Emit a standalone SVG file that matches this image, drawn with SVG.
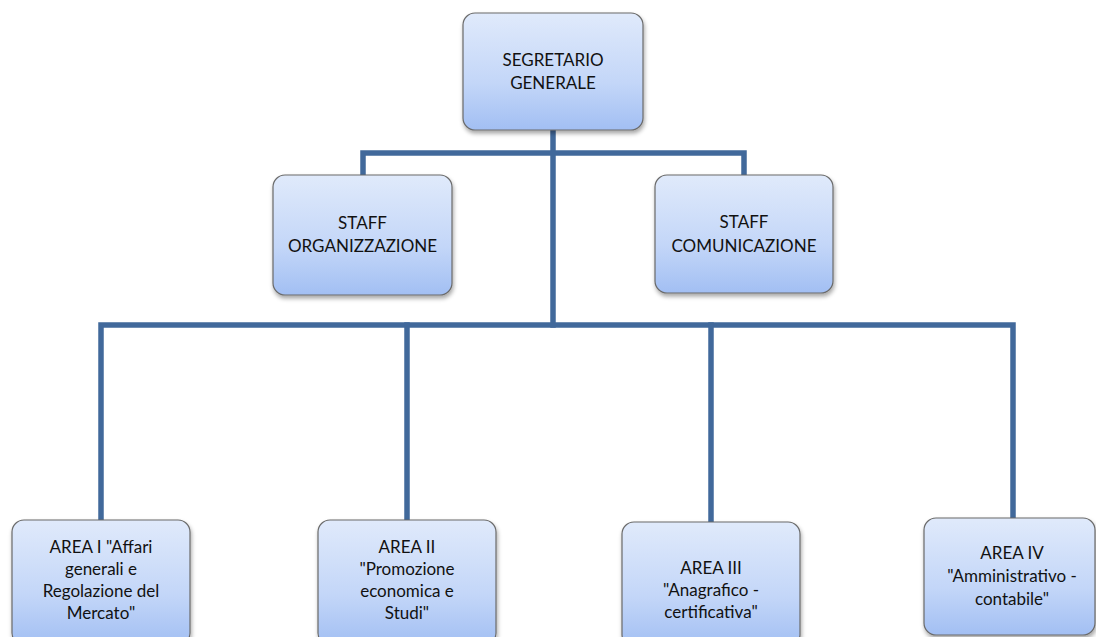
<svg xmlns="http://www.w3.org/2000/svg" width="1096" height="637" viewBox="0 0 1096 637">
<defs>
<linearGradient id="g" x1="0" y1="0" x2="0" y2="1">
<stop offset="0" stop-color="#e0eafb"/>
<stop offset="0.6" stop-color="#c3d6f8"/>
<stop offset="1" stop-color="#a2bff3"/>
</linearGradient>
<filter id="sh" x="-10%" y="-10%" width="130%" height="130%">
<feDropShadow dx="1" dy="3" stdDeviation="2" flood-color="#000" flood-opacity="0.35"/>
</filter>
</defs>
<style>
.box{fill:url(#g);stroke:#6a6a6a;stroke-width:1.2;filter:url(#sh)}
.t{font-family:Lato,"Open Sans",sans-serif;font-size:17px;fill:#111;text-anchor:middle}
.c{fill:none;stroke:#41699b;stroke-width:5.5;stroke-linejoin:miter;stroke-linecap:square}
</style>
<rect width="1096" height="637" fill="#fff"/>
<g id="connectors">
<path class="c" d="M553,130 V325"/>
<path class="c" d="M363,175 V153 H744 V175"/>
<path class="c" d="M101,520 V325 H1013 V518"/>
<path class="c" d="M407,325 V520"/>
<path class="c" d="M711,325 V522"/>
</g>
<g id="segretario">
<rect class="box" x="463" y="13" width="180" height="117" rx="12"/>
<text class="t" x="553" y="66">SEGRETARIO</text>
<text class="t" x="553" y="89">GENERALE</text>
</g>
<g id="staff-org">
<rect class="box" x="273" y="175" width="179" height="120" rx="12"/>
<text class="t" x="362.5" y="229">STAFF</text>
<text class="t" x="362.5" y="252">ORGANIZZAZIONE</text>
</g>
<g id="staff-com">
<rect class="box" x="655" y="175" width="178" height="118" rx="12"/>
<text class="t" x="744" y="228">STAFF</text>
<text class="t" x="744" y="252">COMUNICAZIONE</text>
</g>
<g id="area1">
<rect class="box" x="12" y="520" width="178" height="125" rx="12"/>
<text class="t" x="101" y="553">AREA I "Affari</text>
<text class="t" x="101" y="575">generali e</text>
<text class="t" x="101" y="597">Regolazione del</text>
<text class="t" x="101" y="619">Mercato"</text>
</g>
<g id="area2">
<rect class="box" x="318" y="520" width="178" height="125" rx="12"/>
<text class="t" x="407" y="553">AREA II</text>
<text class="t" x="407" y="575">"Promozione</text>
<text class="t" x="407" y="597">economica e</text>
<text class="t" x="407" y="619">Studi"</text>
</g>
<g id="area3">
<rect class="box" x="622" y="522" width="178" height="125" rx="12"/>
<text class="t" x="711" y="574">AREA III</text>
<text class="t" x="711" y="596">"Anagrafico -</text>
<text class="t" x="711" y="618">certificativa"</text>
</g>
<g id="area4">
<rect class="box" x="924" y="518" width="171" height="117" rx="12"/>
<text class="t" x="1012" y="559">AREA IV</text>
<text class="t" x="1012" y="582">"Amministrativo -</text>
<text class="t" x="1012" y="605">contabile"</text>
</g>
</svg>
